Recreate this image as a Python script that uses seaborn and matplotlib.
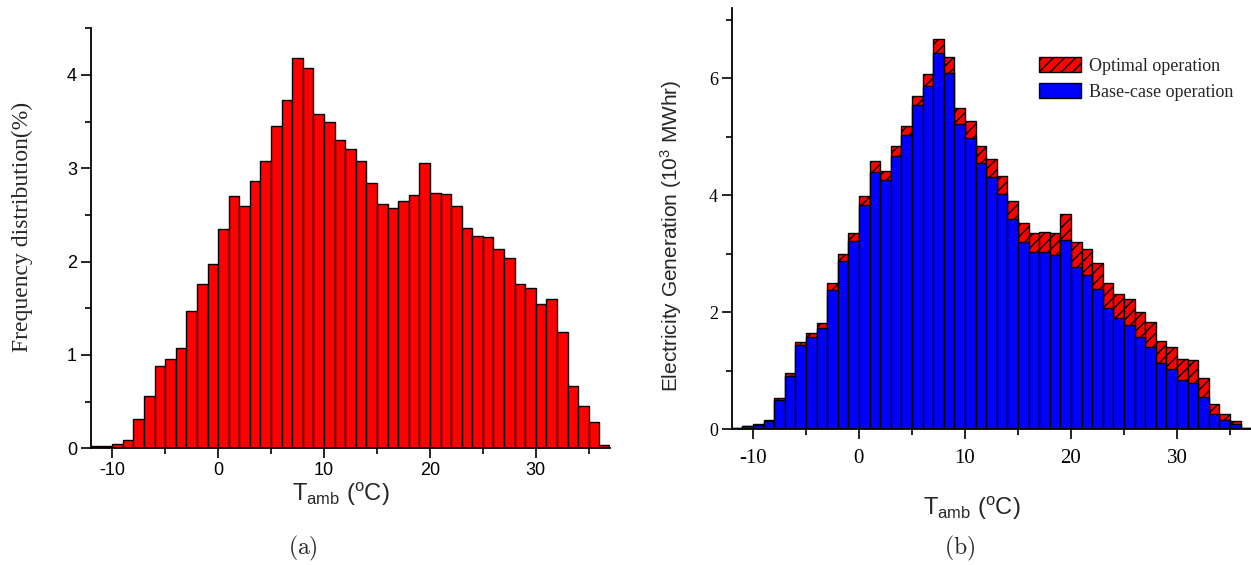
import numpy as np
import pandas as pd
import matplotlib
matplotlib.use("Agg")
import matplotlib.pyplot as plt
import seaborn as sns
from matplotlib.patches import Patch
from matplotlib.ticker import MultipleLocator

# 1 degC temperature bins from -12 to 37 degC
temp_edges = list(range(-12, 38))
temp_mid = [t + 0.5 for t in temp_edges[:-1]]

# (a) frequency distribution of ambient temperature, %
freq_pct = [0.02, 0.03, 0.05, 0.09, 0.31, 0.56, 0.885, 0.96, 1.07, 1.47,
            1.76, 1.97, 2.35, 2.70, 2.60, 2.86, 3.08, 3.45, 3.73, 4.18,
            4.07, 3.58, 3.50, 3.30, 3.21, 3.08, 2.84, 2.62, 2.57, 2.65,
            2.71, 3.06, 2.73, 2.72, 2.60, 2.36, 2.27, 2.26, 2.14, 2.04,
            1.76, 1.72, 1.55, 1.60, 1.25, 0.67, 0.45, 0.28, 0.04]

# (b) electricity generation per temperature bin, 10^3 MWhr
gen_base = [0.03, 0.06, 0.08, 0.14, 0.50, 0.91, 1.44, 1.57, 1.74, 2.39,
            2.88, 3.22, 3.84, 4.40, 4.26, 4.68, 5.04, 5.55, 5.87, 6.43,
            6.10, 5.22, 4.99, 4.56, 4.31, 4.02, 3.59, 3.20, 3.04, 3.03,
            2.98, 3.24, 2.77, 2.64, 2.40, 2.07, 1.90, 1.78, 1.58, 1.41,
            1.13, 1.03, 0.85, 0.80, 0.56, 0.26, 0.16, 0.085, 0.02]
gen_optimal = [0.03, 0.06, 0.09, 0.16, 0.53, 0.96, 1.50, 1.64, 1.82, 2.50,
               2.99, 3.36, 3.99, 4.58, 4.42, 4.85, 5.18, 5.70, 6.07, 6.67,
               6.37, 5.49, 5.27, 4.85, 4.62, 4.34, 3.90, 3.52, 3.36, 3.38,
               3.36, 3.69, 3.20, 3.08, 2.85, 2.50, 2.31, 2.22, 2.01, 1.83,
               1.51, 1.41, 1.20, 1.18, 0.87, 0.43, 0.27, 0.15, 0.02]

df = pd.DataFrame({"temp": temp_mid, "freq": freq_pct,
                   "base": gen_base, "optimal": gen_optimal})

sns.set_style("ticks")
plt.rcParams.update({
    "font.family": ["Liberation Sans", "DejaVu Sans"],
    "mathtext.fontset": "custom",
    "mathtext.rm": "Liberation Sans",
    "mathtext.it": "Liberation Sans:italic",
    "mathtext.bf": "Liberation Sans:bold",
    "axes.unicode_minus": False,
    "axes.edgecolor": "black",
    "axes.linewidth": 1.3,
    "xtick.color": "black",
    "ytick.color": "black",
    "hatch.linewidth": 1.0,
    "hatch.color": "black",
})

W, H = 1251, 565
fig = plt.figure(figsize=(W / 100, H / 100), dpi=100)
ax1 = fig.add_axes([91 / W, 1 - 448.3 / H, 519 / W, 420 / H])
ax2 = fig.add_axes([731.7 / W, 1 - 429.3 / H, 519.4 / W, 421 / H])

# ---- (a) temperature histogram ----
sns.histplot(data=df, x="temp", weights="freq", bins=temp_edges,
             color="#ff0000", alpha=1, edgecolor="black", linewidth=1.0,
             ax=ax1)
ax1.set_xlim(-12, 37)
ax1.set_ylim(0, 4.5)
ax1.xaxis.set_major_locator(MultipleLocator(10))
ax1.xaxis.set_minor_locator(MultipleLocator(5))
ax1.yaxis.set_major_locator(MultipleLocator(1))
ax1.yaxis.set_minor_locator(MultipleLocator(0.5))
ax1.tick_params(which="major", length=7, width=1.2, direction="out", pad=3,
                labelsize=13, labelfontfamily="Liberation Sans")
ax1.tick_params(which="minor", length=4.5, width=1.2, direction="out")
ax1.set_ylabel("Frequency distribution(%)", fontfamily="Liberation Serif",
               fontsize=17)
ax1.yaxis.set_label_coords(-0.112, 0.527)
ax1.set_xlabel(r"$\mathrm{T_{amb}\ (^{o}C)}$", fontsize=17)
ax1.xaxis.set_label_coords(0.482, -0.078)

# ---- (b) generation: optimal (hatched) behind base case ----
sns.histplot(data=df, x="temp", weights="optimal", bins=temp_edges,
             color="#ff0000", alpha=1, edgecolor="black", linewidth=1.0,
             ax=ax2)
for p in ax2.patches:
    p.set_hatch("///")
sns.histplot(data=df, x="temp", weights="base", bins=temp_edges,
             color="#0000ff", alpha=1, edgecolor="black", linewidth=1.0,
             ax=ax2)
ax2.set_xlim(-12, 37)
ax2.set_ylim(0, 7.2)
ax2.xaxis.set_major_locator(MultipleLocator(10))
ax2.xaxis.set_minor_locator(MultipleLocator(5))
ax2.yaxis.set_major_locator(MultipleLocator(2))
ax2.yaxis.set_minor_locator(MultipleLocator(1))
ax2.tick_params(which="major", length=7, width=1.2, direction="out", pad=3,
                labelsize=13, labelfontfamily="Liberation Serif")
ax2.tick_params(axis="x", which="major", pad=7, labelsize=15)
ax2.tick_params(which="minor", length=4.5, width=1.2, direction="out")
ax2.set_ylabel(r"Electricity Generation (10$^{3}$ MWhr)", fontsize=15)
ax2.yaxis.set_label_coords(-0.092, 0.459)
ax2.set_xlabel(r"$\mathrm{T_{amb}\ (^{o}C)}$", fontsize=17)
ax2.xaxis.set_label_coords(0.463, -0.155)

handles = [Patch(facecolor="#ff0000", edgecolor="black", hatch="///",
                 label="Optimal operation"),
           Patch(facecolor="#0000ff", edgecolor="black",
                 label="Base-case operation")]
ax2.legend(handles=handles, loc="upper left",
           bbox_to_anchor=(1039 / W, 1 - 57 / H),
           bbox_transform=fig.transFigure, frameon=False, borderpad=0,
           handlelength=2.3, handleheight=0.9, handletextpad=0.45,
           labelspacing=0.45, borderaxespad=0,
           prop={"family": "Liberation Serif", "size": 13})

for ax in (ax1, ax2):
    sns.despine(ax=ax)

fig.text(303 / W, 1 - 548 / H, r"$\mathrm{(a)}$", math_fontfamily="cm",
         fontsize=17, ha="center", va="center")
fig.text(960 / W, 1 - 548 / H, r"$\mathrm{(b)}$", math_fontfamily="cm",
         fontsize=17, ha="center", va="center")

fig.savefig("out.png", dpi=100)
